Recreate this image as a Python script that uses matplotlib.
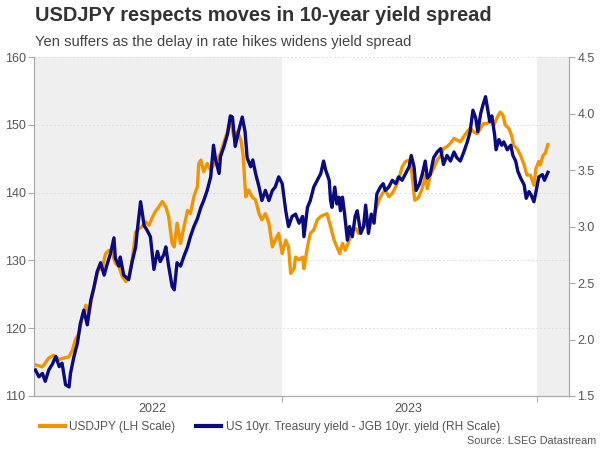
import numpy as np
import matplotlib
matplotlib.use('Agg')
import matplotlib.pyplot as plt
import matplotlib.dates as mdates
from matplotlib.lines import Line2D

plt.rcParams['font.family'] = ['Liberation Sans', 'DejaVu Sans']

# 数据：日期以 2022-01-01 起的天数表示
start = np.datetime64('2022-01-01')

usdjpy_day = [14, 24, 33, 40, 48, 55, 62, 67, 71, 76, 81, 86, 90, 95, 100, 105, 109, 114, 119, 124,
              128, 133, 138, 143, 147, 152, 157, 162, 166, 171, 176, 181, 185, 190, 195,
              200, 204, 209, 212, 216, 221, 226, 231, 235, 240, 245, 247, 250, 254, 259, 264, 269, 273,
              278, 283, 288, 292, 297, 302, 307, 310, 314, 318, 323, 328, 333, 337, 342, 347, 352, 356,
              361, 366, 371, 375, 378, 383,
              385, 390, 395, 397, 402, 406, 411, 416, 421, 425, 430, 435, 440, 444, 448, 452, 456, 461,
              466, 471, 475, 480, 485, 490, 494, 499, 504, 509, 513, 518, 523, 528, 532, 537, 542, 547,
              551, 555, 560, 565, 569,
              570, 573, 577, 582, 587, 592, 596, 601, 606, 611, 615, 620, 625, 630, 634, 639, 644, 649,
              653, 658, 663, 668, 673, 677, 681, 684, 689, 693, 696, 701, 706, 711, 715, 720, 725, 728,
              732, 734, 738, 741, 745]
usdjpy = [114.6, 114.3, 115.6, 116.0, 115.4, 115.6, 115.8, 116.8, 118.3, 119.2, 121.7, 123.4, 122.2,
          124.7, 127.1, 129.1, 128.6, 131.0, 131.5, 131.0, 129.6, 129.1, 127.6, 126.9, 127.4, 130.1,
          134.2, 134.7, 135.0, 135.7, 135.2, 136.4, 137.2, 137.9, 138.7,
          137.9, 136.5, 132.5, 132.0, 135.5, 132.5, 135.0, 137.4, 136.9, 139.4, 140.9, 144.3, 144.8,
          143.1, 144.3, 143.3, 144.3, 144.8, 145.8, 147.5, 149.0, 150.7, 148.3, 149.0, 147.8, 145.8,
          139.4, 140.4, 139.4, 138.9, 136.9, 136.0, 136.9, 135.5, 132.0, 133.0, 134.0, 131.0, 133.0,
          132.0, 128.1, 128.8,
          130.5, 130.1, 130.5, 128.8, 132.0, 134.0, 134.5, 136.0, 136.5, 136.7, 136.9, 135.0, 133.0,
          132.0, 131.0, 132.5, 131.5, 132.8, 134.5, 134.7, 134.0, 134.7, 135.5, 135.0, 136.0, 137.4,
          138.9, 139.9, 140.4, 139.4, 139.9, 140.9, 141.9, 143.8, 144.6, 144.8, 142.8, 138.9, 139.2,
          140.4, 141.9,
          142.6, 140.6, 142.6, 143.6, 144.8, 145.5, 146.5, 146.8, 147.3, 148.0, 147.8, 147.5, 148.3,
          149.0, 149.5, 149.0, 148.7, 149.5, 150.2, 150.2, 150.5, 150.0, 151.2, 151.9, 151.4, 150.0,
          149.5, 148.5, 147.0, 146.5, 145.5, 144.1, 142.6, 142.6, 141.1, 143.6, 144.6, 144.1, 145.5,
          145.8, 147.1]

spread_day = [14, 19, 24, 28, 33, 38, 43, 48, 52, 57, 62, 64, 69, 74, 78, 83, 88, 93, 97, 102, 107,
              112, 116, 121, 126, 128, 133, 135, 140, 147, 152, 157, 159, 164, 169, 173, 178, 183, 188,
              192, 197,
              200, 204, 209, 212, 216, 221, 226, 231, 235, 240, 245, 250, 254, 259, 264, 268, 271, 276,
              278, 283, 288, 292, 295, 299, 304, 309, 313, 316, 321, 324, 328, 333, 337, 342, 347, 352,
              356, 361, 366, 371, 375, 380,
              385, 390, 395, 397, 402, 406, 411, 416, 421, 425, 428, 433, 435, 437, 441, 444, 447, 449,
              452, 455, 459, 462, 466, 470, 473, 478, 482, 485, 489, 493, 497, 501, 506, 510, 513, 518,
              523, 528, 532, 537, 542, 547, 550, 554, 557, 562, 566,
              570, 573, 577, 582, 587, 592, 596, 601, 606, 611, 615, 620, 625, 630, 634, 638, 642, 645,
              649, 652, 656, 659, 662, 665, 669, 671, 675, 679, 682, 687, 692, 695, 699, 702, 706, 711,
              714, 718, 721, 725, 728, 732, 737, 740, 745]
spread = [1.73, 1.67, 1.70, 1.63, 1.73, 1.78, 1.85, 1.76, 1.79, 1.60, 1.58, 1.70, 1.85, 1.97, 2.14,
          2.26, 2.13, 2.35, 2.45, 2.60, 2.68, 2.57, 2.66, 2.76, 2.90, 2.72, 2.65, 2.73, 2.57, 2.53,
          2.69, 2.82, 2.95, 3.22, 3.01, 2.97, 2.91, 2.62, 2.78, 2.69, 2.75,
          2.82, 2.65, 2.47, 2.44, 2.68, 2.65, 2.74, 2.82, 2.91, 3.00, 3.07, 3.17, 3.23, 3.32, 3.44,
          3.72, 3.59, 3.47, 3.62, 3.71, 3.82, 3.98, 3.97, 3.71, 3.85, 3.97, 3.84, 3.61, 3.53, 3.59,
          3.47, 3.35, 3.23, 3.32, 3.23, 3.32, 3.35, 3.44, 3.38, 3.14, 3.00, 3.09,
          3.11, 3.03, 3.09, 2.91, 3.17, 3.23, 3.35, 3.41, 3.47, 3.58, 3.50, 3.41, 3.23, 3.17, 3.35,
          3.20, 3.26, 3.14, 3.26, 3.11, 2.88, 3.00, 2.91, 3.09, 3.14, 2.94, 3.00, 3.19, 2.94, 3.11,
          3.03, 3.29, 3.35, 3.38, 3.32, 3.35, 3.41, 3.38, 3.44, 3.41, 3.47, 3.53, 3.63, 3.53, 3.32,
          3.38, 3.47,
          3.58, 3.43, 3.46, 3.61, 3.66, 3.69, 3.55, 3.63, 3.58, 3.66, 3.61, 3.58, 3.66, 3.75, 3.84,
          4.03, 3.96, 3.84, 4.00, 4.07, 4.15, 4.04, 3.93, 3.98, 3.81, 3.68, 3.77, 3.72, 3.75, 3.68,
          3.72, 3.63, 3.58, 3.49, 3.43, 3.37, 3.25, 3.31, 3.28, 3.22, 3.31, 3.44, 3.46, 3.41, 3.48]

usdjpy_dates = start + np.array(usdjpy_day).astype('timedelta64[D]')
spread_dates = start + np.array(spread_day).astype('timedelta64[D]')

ORANGE = '#f29400'
NAVY = '#0b0b80'
GREY_TXT = '#555555'

fig = plt.figure(figsize=(6, 4.5), dpi=100)
ax = fig.add_axes([0.0567, 0.12, 0.8916, 0.753])
ax2 = ax.twinx()

x0 = np.datetime64('2022-01-13')
x1 = np.datetime64('2024-02-15')

# 灰色年份背景
ax.axvspan(x0, np.datetime64('2023-01-01'), color='#efefef', zorder=0.2, lw=0)
ax.axvspan(np.datetime64('2024-01-01'), x1, color='#efefef', zorder=0.2, lw=0)

ax.plot(usdjpy_dates, usdjpy, color=ORANGE, lw=2.4, zorder=3, solid_joinstyle='round')
ax2.plot(spread_dates, spread, color=NAVY, lw=2.4, zorder=3, solid_joinstyle='round')

ax.set_xlim(x0, x1)
ax.set_ylim(110, 160)
ax.set_yticks(np.arange(110, 161, 10))
ax2.set_ylim(1.5, 4.5)
ax2.set_yticks(np.arange(1.5, 4.51, 0.5))
ax2.set_yticklabels([f'{v:.1f}' for v in np.arange(1.5, 4.51, 0.5)])

ax.grid(axis='y', color='#dddddd', lw=0.7, ls=(0, (2, 2)))
ax.set_axisbelow(True)

# x 轴：年份分界刻度 + 年中标签
ax.xaxis.set_major_locator(mdates.YearLocator())
ax.xaxis.set_major_formatter(plt.NullFormatter())
ax.xaxis.set_minor_locator(mdates.MonthLocator(bymonth=7))
ax.xaxis.set_minor_formatter(mdates.DateFormatter('%Y'))
ax.tick_params(axis='x', which='major', length=4, color='#aaaaaa')
ax.tick_params(axis='x', which='minor', length=0, pad=5, labelsize=9, labelcolor=GREY_TXT)
ax.tick_params(axis='y', length=4, color='#aaaaaa', labelsize=9, labelcolor=GREY_TXT, pad=2)
ax2.tick_params(axis='y', length=4, color='#aaaaaa', labelsize=9, labelcolor=GREY_TXT, pad=2)

for a in (ax, ax2):
    a.spines['top'].set_visible(False)
    for s in ('left', 'right', 'bottom'):
        a.spines[s].set_color('#aaaaaa')
        a.spines[s].set_linewidth(0.8)
ax2.set_zorder(ax.get_zorder() + 1)
ax2.patch.set_visible(False)

fig.text(0.058, 0.966, 'USDJPY respects moves in 10-year yield spread', fontsize=14.4,
         fontweight='bold', color='#333333', va='center', ha='left')
fig.text(0.058, 0.907, 'Yen suffers as the delay in rate hikes widens yield spread', fontsize=10.65,
         color='#444444', va='center', ha='left')

handles = [Line2D([], [], color=ORANGE, lw=3),
           Line2D([], [], color=NAVY, lw=3)]
fig.legend(handles, ['USDJPY (LH Scale)', 'US 10yr. Treasury yield - JGB 10yr. yield (RH Scale)'],
           loc='center left', bbox_to_anchor=(0.052, 0.051), ncol=2, frameon=False,
           fontsize=8.6, handlelength=2.1, handletextpad=0.4, columnspacing=1.7,
           labelcolor=GREY_TXT, borderpad=0.2)
fig.text(0.993, 0.02, 'Source: LSEG Datastream', fontsize=7.8, color=GREY_TXT,
         ha='right', va='center')

fig.savefig('out.png', dpi=100)
